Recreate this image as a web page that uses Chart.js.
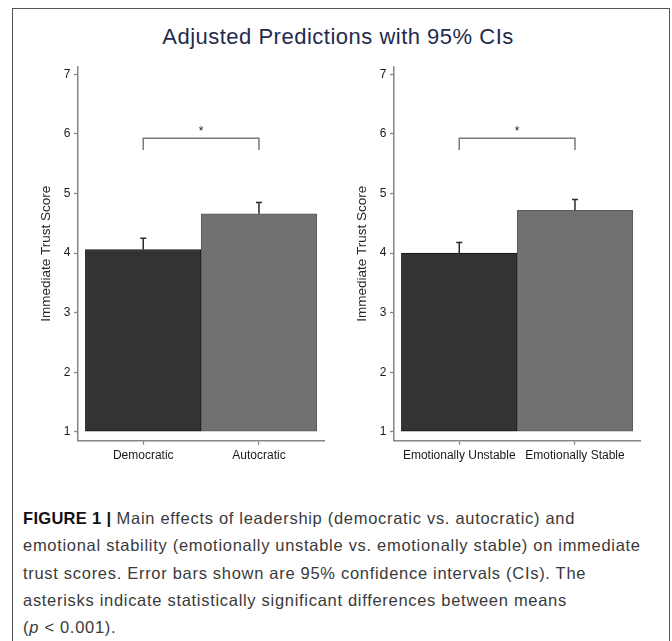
<!DOCTYPE html>
<html>
<head>
<meta charset="utf-8">
<title>Adjusted Predictions with 95% CIs</title>
<script src="https://cdn.jsdelivr.net/npm/chart.js@4.4.0/dist/chart.umd.min.js"></script>
<style>
  body { margin: 0; width: 672px; height: 641px; overflow: hidden; position: relative; background: #fff; font-family: "Liberation Sans", Arial, sans-serif; }
  #frame { position: absolute; left: 12px; top: 8px; width: 656px; height: 640px; border: 1px solid #555; border-bottom: none; }
  #title { position: absolute; left: 0; top: 25px; width: 676px; text-align: center; font-size: 22px; line-height: 23px; letter-spacing: 0.5px; color: #1f2b4c; white-space: nowrap; }
  .panel { position: absolute; top: 56px; }
  #caption { position: absolute; left: 23px; top: 505px; font-size: 16.5px; line-height: 27.3px; letter-spacing: 0.7px; color: #3a3a3a; white-space: nowrap; }
  #caption b { color: #111; letter-spacing: 0.3px; }
</style>
</head>
<body>
<div id="frame"></div>
<div id="title">Adjusted Predictions with 95% CIs</div>
<canvas id="leadershipChart" class="panel" width="336" height="434" style="left:0px"></canvas>
<canvas id="stabilityChart" class="panel" width="336" height="434" style="left:316px"></canvas>
<div id="caption"><b>FIGURE 1 |</b> Main effects of leadership (democratic vs. autocratic) and<br>emotional stability (emotionally unstable vs. emotionally stable) on immediate<br>trust scores. Error bars shown are 95% confidence intervals (CIs). The<br>asterisks indicate statistically significant differences between means<br>(<i>p</i> &lt; 0.001).</div>

<script>
'use strict';

// chart values
const barPositions = [1, 2]
const leadershipLabels = ['Democratic', 'Autocratic']
const leadershipMeans = [4.06, 4.66]
const leadershipUpperCI = [4.25, 4.85]
const stabilityLabels = ['Emotionally Unstable', 'Emotionally Stable']
const stabilityMeans = [4.00, 4.72]
const stabilityUpperCI = [4.18, 4.90]
const yTicks = [1, 2, 3, 4, 5, 6, 7]

// significance bracket level (in score units) and how far its ends drop
const bracketLevel = 5.93
const bracketDrop = 0.2

const barColors = ['#333333', '#717171']
const barBorders = ['#151515', '#5a5a5a']
const axisColor = '#858585'
const textColor = '#1a1a1a'

/**
 * Plugin that draws the upper half of each 95% CI (the lower half sits behind the bar)
 */
const errorBarPlugin = {
  id: 'errorBars',
  afterDatasetsDraw: (chart, args, opts) => {
    const ctx = chart.ctx
    const yScale = chart.scales.y
    const bars = chart.getDatasetMeta(0).data
    ctx.save()
    ctx.strokeStyle = '#2a2a2a'
    ctx.lineWidth = 1.5
    bars.forEach((bar, i) => {
      const top = yScale.getPixelForValue(opts.upper[i])
      ctx.beginPath()
      ctx.moveTo(bar.x, bar.y)
      ctx.lineTo(bar.x, top)
      ctx.moveTo(bar.x - 3, top)
      ctx.lineTo(bar.x + 3, top)
      ctx.stroke()
    })
    ctx.restore()
  }
}

/**
 * Plugin that draws the bracket and asterisk between the two bars
 */
const bracketPlugin = {
  id: 'sigBracket',
  afterDatasetsDraw: (chart) => {
    const ctx = chart.ctx
    const xScale = chart.scales.x
    const yScale = chart.scales.y
    const x1 = xScale.getPixelForValue(barPositions[0])
    const x2 = xScale.getPixelForValue(barPositions[1])
    const yTop = yScale.getPixelForValue(bracketLevel)
    const yEnd = yScale.getPixelForValue(bracketLevel - bracketDrop)
    ctx.save()
    ctx.strokeStyle = '#7a7a7a'
    ctx.lineWidth = 1.5
    ctx.beginPath()
    ctx.moveTo(x1, yEnd)
    ctx.lineTo(x1, yTop)
    ctx.lineTo(x2, yTop)
    ctx.lineTo(x2, yEnd)
    ctx.stroke()
    ctx.fillStyle = '#222'
    ctx.font = '12px "Liberation Sans", Arial, sans-serif'
    ctx.textAlign = 'center'
    ctx.textBaseline = 'alphabetic'
    ctx.fillText('*', (x1 + x2) / 2, yTop - 3.5)
    ctx.restore()
  }
}

/**
 * Function to build one panel of the figure
 * @param {String} canvasId id of the canvas element
 * @param {Array} labels category names
 * @param {Array} means adjusted mean trust scores
 * @param {Array} upperCI upper limits of the 95% CIs
 */
const createPanel = (canvasId, labels, means, upperCI) => {
  const chartElement = document.getElementById(canvasId)

  const config = {
    type: 'bar',
    data: {
      datasets: [{
        data: barPositions.map((x, i) => ({ x: x, y: means[i] })),
        backgroundColor: barColors,
        borderColor: barBorders,
        borderWidth: 1,
        borderSkipped: false,
        barPercentage: 1,
        categoryPercentage: 1,
        base: 1
      }]
    },
    options: {
      responsive: false,
      animation: false,
      devicePixelRatio: 1,
      events: [],
      layout: { padding: { left: 0, right: 12, top: 8, bottom: 0 } },
      plugins: {
        legend: { display: false },
        tooltip: { enabled: false },
        errorBars: { upper: upperCI }
      },
      scales: {
        x: {
          type: 'linear',
          offset: false,
          min: 0.436,
          max: 2.562,
          afterBuildTicks: scale => { scale.ticks = barPositions.map(v => ({ value: v })) },
          afterFit: scale => { scale.height = 49.3 },
          ticks: {
            autoSkip: false,
            maxRotation: 0,
            padding: 4,
            color: textColor,
            font: { family: 'Liberation Sans', size: 12 },
            callback: (value, index) => labels[index]
          },
          grid: { offset: false, drawOnChartArea: false, drawTicks: true, tickLength: 4, tickColor: axisColor, tickWidth: 1.3 },
          border: { display: true, color: axisColor, width: 1.5 }
        },
        y: {
          min: 0.85,
          max: 7.13,
          afterBuildTicks: scale => { scale.ticks = yTicks.map(v => ({ value: v })) },
          afterFit: scale => { scale.width = 78 },
          ticks: {
            padding: 3.5,
            color: textColor,
            font: { family: 'Liberation Sans', size: 12 }
          },
          grid: { drawOnChartArea: false, drawTicks: true, tickLength: 4, tickColor: axisColor, tickWidth: 1.3 },
          border: { display: true, color: axisColor, width: 1.5 },
          title: {
            display: true,
            text: 'Immediate Trust Score',
            color: '#262626',
            font: { family: 'Liberation Sans', size: 13.5 },
            padding: { top: 38.6, bottom: 0 }
          }
        }
      }
    },
    plugins: [errorBarPlugin, bracketPlugin]
  }

  new Chart(chartElement, config)
}

createPanel('leadershipChart', leadershipLabels, leadershipMeans, leadershipUpperCI)
createPanel('stabilityChart', stabilityLabels, stabilityMeans, stabilityUpperCI)
</script>
</body>
</html>
